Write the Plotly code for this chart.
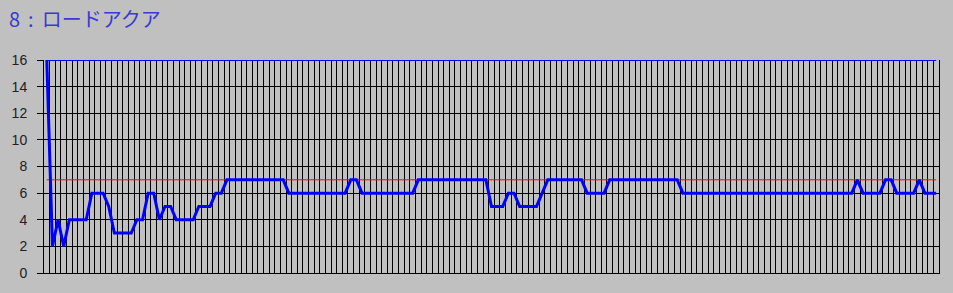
import plotly.graph_objects as go

# ---- data ----
title_text = "8 : ロードアクア"
values = [
    16, 2, 4, 2, 4, 4, 4, 4, 6, 6,
    6, 5, 3, 3, 3, 3, 4, 4, 6, 6,
    4, 5, 5, 4, 4, 4, 4, 5, 5, 5,
    6, 6, 7, 7, 7, 7, 7, 7, 7, 7,
    7, 7, 7, 6, 6, 6, 6, 6, 6, 6,
    6, 6, 6, 6, 7, 7, 6, 6, 6, 6,
    6, 6, 6, 6, 6, 6, 7, 7, 7, 7,
    7, 7, 7, 7, 7, 7, 7, 7, 7, 5,
    5, 5, 6, 6, 5, 5, 5, 5, 6, 7,
    7, 7, 7, 7, 7, 7, 6, 6, 6, 6,
    7, 7, 7, 7, 7, 7, 7, 7, 7, 7,
    7, 7, 7, 6, 6, 6, 6, 6, 6, 6,
    6, 6, 6, 6, 6, 6, 6, 6, 6, 6,
    6, 6, 6, 6, 6, 6, 6, 6, 6, 6,
    6, 6, 6, 6, 7, 6, 6, 6, 6, 7,
    7, 6, 6, 6, 6, 7, 6, 6, 6,
]
categories = list(range(len(values)))
target_level = 7
upper_level = 16
y_ticks = [0, 2, 4, 6, 8, 10, 12, 14, 16]

target_series = [target_level for _ in categories]
upper_series = [upper_level for _ in categories]

BG = "#C0C0C0"

fig = go.Figure()
fig.add_trace(go.Scatter(x=categories, y=upper_series, mode="lines",
                         line=dict(color="#0000FF", width=2), hoverinfo="skip"))
fig.add_trace(go.Scatter(x=categories, y=target_series, mode="lines",
                         line=dict(color="#FF0000", width=1), hoverinfo="skip"))
fig.add_trace(go.Scatter(x=categories, y=values, mode="lines",
                         line=dict(color="#0000FF", width=3)))

n = len(categories)
fig.update_layout(
    width=953, height=293,
    margin=dict(l=43, r=14, t=60, b=15),
    paper_bgcolor=BG, plot_bgcolor=BG,
    showlegend=False,
    title=dict(text=title_text.replace(" ", "\u2009\u2009"), xref="container", yref="container",
               x=9 / 953, xanchor="left", y=1 - 20 / 293, yanchor="middle",
               font=dict(family="Noto Sans CJK JP", size=20, color="#3A3AD0")),
    xaxis=dict(range=[-0.5, n - 0.5],
               tickvals=[k - 0.5 for k in range(n + 1)],
               showticklabels=False, ticks="",
               showgrid=True, gridcolor="#000000", gridwidth=1,
               zeroline=False, showline=True, linecolor="#000000", linewidth=1),
    yaxis=dict(range=[0, 16], tickvals=y_ticks,
               ticks="outside", ticklen=6, tickcolor="#000000",
               showgrid=True, gridcolor="#000000", gridwidth=1,
               zeroline=False, showline=True, linecolor="#000000", linewidth=1,
               mirror=True, ticklabelstandoff=7,
               tickfont=dict(family="Liberation Sans, Arial", size=14, color="#202020")),
)

fig.write_html("out.html")
